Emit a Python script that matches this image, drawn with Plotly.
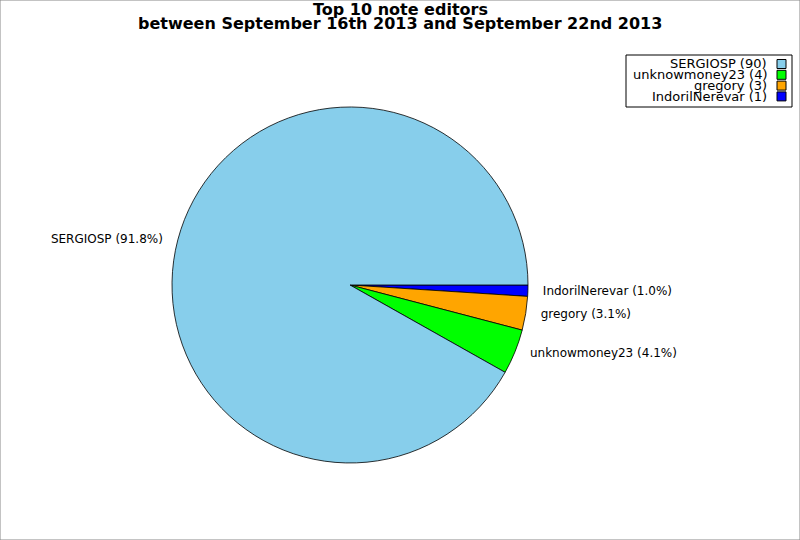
import plotly.graph_objects as go

labels = ["SERGIOSP", "unknowmoney23", "gregory", "IndorilNerevar"]
values = [90, 4, 3, 1]
colors = ["#87CEEB", "#00FF00", "#FFA500", "#0000FF"]
title_lines = ["Top 10 note editors", "between September 16th 2013 and September 22nd 2013"]

W, H = 800, 540
PAD = "\u00a0\u00a0\u00a0"

# drawn clockwise from 3 o'clock, so feed slices in reverse order
r_labels = labels[::-1]
r_values = values[::-1]
r_colors = colors[::-1]

fig = go.Figure()
fig.add_trace(go.Pie(
    labels=r_labels,
    values=r_values,
    sort=False,
    direction="clockwise",
    rotation=90,
    marker=dict(colors=r_colors, line=dict(color="black", width=0.8)),
    textposition="outside",
    texttemplate=PAD + "%{label} (%{percent:.1%})" + PAD,
    textfont=dict(family="DejaVu Sans", size=12, color="black"),
    hoverinfo="label+percent",
    domain=dict(x=[0.215, 0.66], y=[0.1426, 0.8019]),
    automargin=False,
    showlegend=False,
))

annotations = []
for i, line in enumerate(title_lines):
    annotations.append(dict(
        text="<b>" + line + "</b>", x=0.5, xref="paper", xanchor="center",
        y=1 - (9.5 + 14 * i) / H, yref="paper", yanchor="middle", showarrow=False,
        font=dict(family="DejaVu Sans", size=16, color="black"),
    ))

# legend box (right aligned text, colour square on the right)
shapes = [dict(type="rect", xref="paper", yref="paper", x0=0, y0=0, x1=1, y1=1,
               line=dict(color="#888888", width=1))]
box_l, box_r, box_t, box_b = 626, 792, 55, 107
shapes.append(dict(type="rect", xref="paper", yref="paper",
                   x0=box_l / W, x1=box_r / W, y0=1 - box_b / H, y1=1 - box_t / H,
                   line=dict(color="black", width=1), fillcolor="white"))
row0, row_h = 64, 10.8
for i, (lab, val, col) in enumerate(zip(labels, values, colors)):
    yc = row0 + row_h * i
    annotations.append(dict(
        text=f"{lab} ({val})", x=769 / W, xref="paper", xanchor="right",
        y=1 - yc / H, yref="paper", yanchor="middle", showarrow=False,
        font=dict(family="DejaVu Sans", size=13, color="black"),
    ))
    shapes.append(dict(type="rect", xref="paper", yref="paper",
                       x0=777 / W, x1=786 / W, y0=1 - (yc + 4.5) / H, y1=1 - (yc - 4.5) / H,
                       line=dict(color="black", width=1), fillcolor=col))

fig.update_layout(
    width=W, height=H,
    margin=dict(l=0, r=0, t=0, b=0),
    paper_bgcolor="white",
    plot_bgcolor="white",
    font=dict(family="DejaVu Sans", color="black"),
    annotations=annotations,
    shapes=shapes,
)

fig.write_html("out.html", config={"displayModeBar": False},
               post_script="document.body.style.margin='0';")
